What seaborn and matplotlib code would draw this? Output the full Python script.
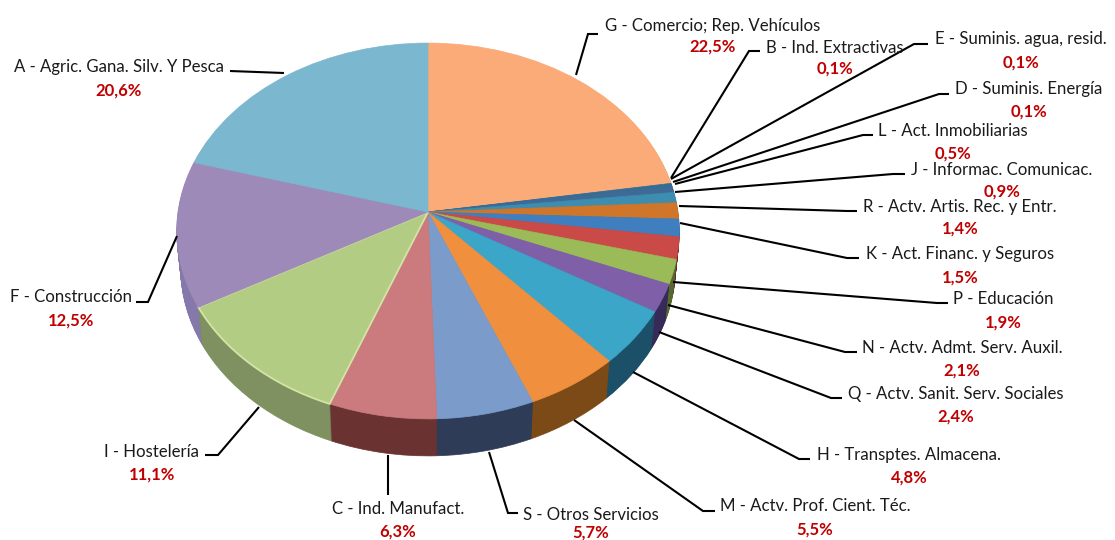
import matplotlib
matplotlib.use('Agg')
import matplotlib.pyplot as plt
from matplotlib.transforms import Transform
import numpy as np
import seaborn as sns

# sector names and shares, clockwise from the top
labels = ['G - Comercio; Rep. Vehículos', 'B - Ind. Extractivas', 'E - Suminis. agua, resid.',
          'D - Suminis. Energía', 'L - Act. Inmobiliarias', 'J - Informac. Comunicac.',
          'R - Actv. Artis. Rec. y Entr.', 'K - Act. Financ. y Seguros', 'P - Educación',
          'N - Actv. Admt. Serv. Auxil.', 'Q - Actv. Sanit. Serv. Sociales', 'H - Transptes. Almacena.',
          'M - Actv. Prof. Cient. Téc.', 'S - Otros Servicios', 'C - Ind. Manufact.',
          'I - Hostelería', 'F - Construcción', 'A - Agric. Gana. Silv. Y Pesca']
values = [22.5, 0.1, 0.1, 0.1, 0.5, 0.9, 1.4, 1.5, 1.9, 2.1, 2.4, 4.8, 5.5, 5.7, 6.3, 11.1, 12.5, 20.6]

top_colors = ['#FBAB78', '#2F6FA0', '#3A6E96', '#35708F', '#3E6A96', '#3C8DB0', '#D0762A', '#3F7FC0',
              '#C94A46', '#9BBB59', '#7F5FA8', '#3BA6C8', '#F0903F', '#7B9CCB', '#CB7B7E', '#B2CC83',
              '#9E8AB8', '#7CB7D0']
side_colors = ['#8a5d40', '#2a4568', '#682b2a', '#556730', '#3c2f58', '#1f4d60', '#733f15', '#214a78',
               '#6b2725', '#566830', '#382a58', '#1c5068', '#7c4a17', '#2f3c58', '#6b3232', '#7f9160',
               '#8579ab', '#4e7f95']

# label centres, percent centres and leader lines, in pixels of the picture
label_pos = [(713, 26), (835, 48), (1021, 39), (1029, 89), (953, 131), (1002, 170), (960, 207), (960, 254),
             (1003, 299), (962, 348), (956, 394), (909, 455), (815, 506), (591, 515), (398, 509),
             (152, 452), (71, 297), (119, 67)]
pct_pos = [(713, 47), (835, 69), (1021, 63), (1029, 112), (953, 154), (1002, 192), (960, 229), (960, 278),
           (1003, 323), (962, 371), (956, 417), (909, 478), (815, 530), (591, 533), (398, 532),
           (152, 475), (71, 321), (119, 91)]
leaders = [[(576, 75), (588, 34), (598, 34)], [(671, 178), (749, 51), (760, 51)],
           [(671, 179), (914, 44), (928, 44)], [(673, 182), (939, 94), (949, 94)],
           [(675, 184), (863, 135), (873, 135)], [(675, 192), (893, 174), (905, 174)],
           [(679, 206), (847, 211), (857, 211)], [(680, 223), (847, 258), (859, 258)],
           [(673, 282), (937, 303), (948, 303)], [(668, 305), (845, 352), (857, 352)],
           [(659, 332), (831, 398), (842, 398)], [(633, 372), (799, 459), (810, 459)],
           [(574, 420), (703, 511), (715, 511)], [(489, 452), (508, 513), (518, 513)],
           [(388, 455), (388, 495)], [(259, 407), (218, 455), (205, 455)],
           [(177, 236), (148, 302), (136, 302)], [(284, 73), (230, 71)]]

depth = 37


class Tilt(Transform):
    # perspective view of the unit disc, in picture pixels
    input_dims = 2
    output_dims = 2

    def __init__(self, drop=0.0, sx=250.0):
        super().__init__()
        self.drop = drop
        self.sx = sx

    def transform_non_affine(self, xy):
        xy = np.asarray(xy, dtype=float)
        w = 1 + 0.101 * xy[:, 1]
        return np.column_stack([428 + self.sx * xy[:, 0] / w,
                                212 + self.drop - 186 * xy[:, 1] / w])


def draw_pie(colors, tilt):
    wedges, _ = ax.pie(values, colors=sns.color_palette(colors), startangle=90, counterclock=False,
                       wedgeprops={'transform': tilt + ax.transData, 'linewidth': 0.5})
    for w in wedges:
        w.set_edgecolor(w.get_facecolor())
    return wedges


sns.set_theme(style='white')
plt.rcParams['font.family'] = ['Lato', 'DejaVu Sans']

fig = plt.figure(figsize=(11.15, 5.40), dpi=100)
ax = fig.add_axes([0, 0, 1, 1])

# side wall: stacked copies of the pie, lowest first
for d in range(depth, 0, -1):
    draw_pie(side_colors, Tilt(d, 250 - 4 * d / depth))

top = draw_pie(top_colors, Tilt())
# pale rim on the green slice
top[15].set_edgecolor('#D3E4A6')
top[15].set_linewidth(1.3)

ax.set_aspect('auto')
ax.set_xlim(0, 1115)
ax.set_ylim(540, 0)
ax.axis('off')

for line in leaders:
    xs, ys = zip(*line)
    ax.plot(xs, ys, color='black', lw=1.5, solid_capstyle='butt', solid_joinstyle='miter')

for name, val, lp, pp in zip(labels, values, label_pos, pct_pos):
    ax.text(lp[0], lp[1], name, ha='center', va='center', fontsize=12.1, color='#1a1a1a')
    ax.text(pp[0], pp[1], f'{val:.1f}%'.replace('.', ','), ha='center', va='center',
            fontsize=12, fontweight='bold', color='#C00000')

fig.savefig('out.png', dpi=100)
